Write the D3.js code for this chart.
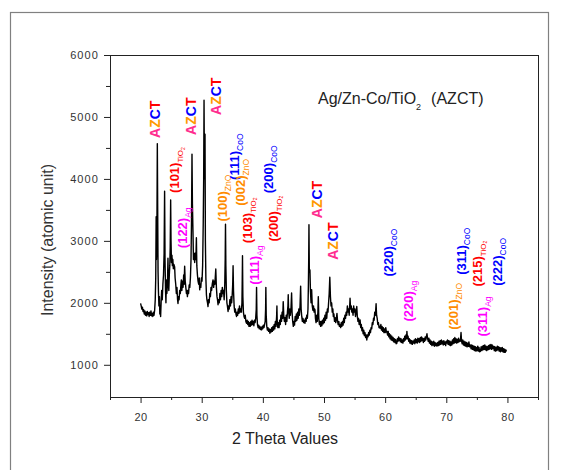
<!DOCTYPE html>
<html>
<head>
<meta charset="utf-8">
<script src="https://cdn.jsdelivr.net/npm/d3@7"></script>
<style>
  body { margin: 0; background: #fff; }
  text { font-family: Arial, "Liberation Sans", sans-serif; }
</style>
</head>
<body>
<svg id="chart" width="561" height="470"></svg>
<script>
// ---- data (2 theta in degrees, intensity in a.u.) ----
var pattern = [
  [20.0,1990],[20.1,1950],[20.2,1900],[20.3,1930],[20.4,1860],[20.5,1890],[20.6,1820],[20.7,1870],[20.8,1800],[20.9,1850],
  [21.0,1790],[21.1,1860],[21.2,1810],[21.3,1840],[21.4,1780],[21.5,1850],[21.6,1800],[21.7,1870],[21.8,1790],[21.9,1830],
  [22.0,1780],[22.1,1850],[22.2,1800],[22.3,1880],[22.4,2050],[22.48,2400],[22.55,3390],[22.6,2700],[22.66,2900],[22.74,4570],
  [22.8,3500],[22.86,2500],[22.92,2200],[23.0,1950],[23.08,2100],[23.15,1820],[23.22,1900],[23.28,1780],[23.36,2000],[23.45,2200],
  [23.55,2050],[23.65,2300],[23.75,2450],[23.85,2800],[23.93,3800],[24.0,2700],[24.08,2200],[24.15,2000],[24.22,2370],[24.3,2150],
  [24.4,2300],[24.48,2720],[24.55,2300],[24.62,2200],[24.7,2450],[24.78,2600],[24.85,2900],[24.92,3660],[24.98,3000],[25.05,2650],
  [25.13,2770],[25.2,2600],[25.28,2700],[25.36,2550],[25.45,2620],[25.57,2580],[25.65,2400],[25.75,2300],[25.85,2150],[25.95,2250],
  [26.05,2050],[26.12,1990],[26.2,2100],[26.3,2050],[26.4,2200],[26.5,2150],[26.6,2300],[26.67,2370],[26.75,2200],[26.85,2350],
  [26.95,2250],[27.05,2450],[27.12,2300],[27.21,2590],[27.3,2350],[27.4,2250],[27.5,2150],[27.6,2200],[27.66,2100],[27.75,2200],
  [27.85,2150],[27.95,2290],[28.05,2250],[28.15,2400],[28.25,2700],[28.33,3300],[28.41,4400],[28.48,3600],[28.57,3150],[28.65,2700],
  [28.75,2800],[28.85,2650],[28.95,2800],[29.05,2700],[29.13,3050],[29.2,2600],[29.3,2450],[29.4,2350],[29.5,2300],[29.6,2400],
  [29.67,2210],[29.75,2300],[29.85,2250],[29.95,2400],[30.05,2350],[30.15,2600],[30.25,3300],[30.32,4000],[30.38,5270],[30.45,4000],
  [30.54,4720],[30.6,3000],[30.68,2400],[30.77,2130],[30.85,2050],[30.95,2000],[31.03,1940],[31.12,2050],[31.22,2000],[31.32,2150],
  [31.42,2100],[31.52,2250],[31.62,2200],[31.72,2300],[31.85,2370],[31.95,2250],[32.05,2350],[32.15,2300],[32.3,2545],[32.4,2250],
  [32.5,2100],[32.58,2050],[32.67,1970],[32.77,2050],[32.87,2000],[32.97,2150],[33.07,2050],[33.17,2200],[33.27,2100],[33.37,2250],
  [33.47,2150],[33.57,2200],[33.67,2050],[33.77,2300],[33.84,2700],[33.89,3270],[33.95,2600],[34.03,2200],[34.12,2000],[34.2,1950],
  [34.31,1860],[34.4,1950],[34.5,1900],[34.6,2050],[34.7,1950],[34.8,2100],[34.9,2000],[35.0,2150],[35.07,2300],[35.13,2600],
  [35.2,2200],[35.3,1950],[35.4,1850],[35.5,1900],[35.6,1820],[35.69,1780],[35.78,1850],[35.88,1800],[35.98,1900],[36.08,1830],
  [36.18,1950],[36.28,1850],[36.38,1900],[36.48,1850],[36.58,2000],[36.62,2300],[36.67,2760],[36.73,2100],[36.82,1850],[36.92,1780],
  [37.02,1750],[37.12,1800],[37.22,1700],[37.33,1670],[37.43,1720],[37.53,1650],[37.63,1700],[37.73,1620],[37.83,1680],[37.93,1620],
  [38.03,1700],[38.13,1640],[38.23,1720],[38.33,1650],[38.43,1700],[38.53,1630],[38.63,1720],[38.73,1680],[38.83,1750],[38.92,1900],
  [38.97,2250],[39.03,1800],[39.12,1650],[39.22,1600],[39.32,1640],[39.42,1580],[39.52,1620],[39.62,1570],[39.72,1600],[39.79,1565],
  [39.88,1620],[39.98,1580],[40.08,1640],[40.18,1600],[40.28,1650],[40.38,1700],[40.45,1900],[40.49,2250],[40.55,1800],[40.64,1620],
  [40.74,1560],[40.84,1600],[40.94,1540],[41.04,1580],[41.15,1510],[41.25,1570],[41.35,1530],[41.45,1600],[41.55,1540],[41.65,1620],
  [41.75,1560],[41.85,1650],[41.95,1580],[42.05,1700],[42.15,1620],[42.25,1780],[42.3,1950],[42.35,1700],[42.45,1600],[42.55,1680],
  [42.65,1600],[42.75,1720],[42.85,1650],[42.95,1800],[43.05,1700],[43.15,1850],[43.25,1750],[43.33,2020],[43.42,1800],[43.52,1700],
  [43.62,1760],[43.72,1650],[43.82,1800],[43.92,1700],[44.02,1850],[44.1,1950],[44.15,2130],[44.22,1850],[44.32,1750],[44.42,1900],
  [44.5,1800],[44.6,1900],[44.7,2160],[44.78,1850],[44.88,1700],[44.98,1620],[45.08,1700],[45.18,1640],[45.28,1780],[45.38,1700],
  [45.48,1820],[45.58,1720],[45.68,1850],[45.78,1750],[45.88,1900],[45.98,1800],[46.08,1950],[46.18,2270],[46.26,1900],[46.36,1780],
  [46.46,1700],[46.56,1750],[46.66,1680],[46.76,1720],[46.89,1670],[46.98,1750],[47.08,1700],[47.18,1800],[47.28,1750],[47.38,1900],
  [47.45,2300],[47.5,2700],[47.54,3260],[47.6,2500],[47.7,2530],[47.78,2200],[47.88,2000],[47.98,2210],[48.08,1950],[48.18,1880],
  [48.28,1950],[48.38,1850],[48.45,1900],[48.52,1890],[48.6,1750],[48.7,1680],[48.8,1800],[48.9,1700],[49.0,1850],[49.07,2100],
  [49.15,1750],[49.25,1650],[49.35,1700],[49.45,1620],[49.55,1700],[49.65,1630],[49.75,1720],[49.85,1660],[49.95,1750],[50.05,1680],
  [50.15,1800],[50.25,1720],[50.35,1850],[50.45,1750],[50.55,1900],[50.65,1850],[50.75,2000],[50.85,2150],[50.95,2414],[51.05,2100],
  [51.15,1950],[51.25,2000],[51.35,1850],[51.45,1900],[51.52,1780],[51.62,1820],[51.72,1700],[51.82,1760],[51.92,1680],[52.02,1740],
  [52.12,1830],[52.22,1700],[52.32,1650],[52.42,1700],[52.52,1620],[52.62,1645],[52.72,1600],[52.82,1680],[52.92,1620],[53.02,1700],
  [53.12,1640],[53.22,1750],[53.32,1680],[53.42,1800],[53.52,1750],[53.62,1850],[53.72,1800],[53.82,1950],[53.92,1850],[54.02,1900],
  [54.12,1800],[54.2,1950],[54.26,2075],[54.35,1900],[54.45,1950],[54.55,1850],[54.65,1900],[54.75,1800],[54.85,1950],[54.95,1850],
  [55.05,1900],[55.15,1780],[55.25,1850],[55.36,1940],[55.45,1780],[55.55,1700],[55.65,1750],[55.75,1650],[55.9,1725],[56.0,1600],
  [56.1,1650],[56.2,1550],[56.3,1600],[56.4,1500],[56.5,1560],[56.6,1470],[56.7,1520],[56.8,1440],[56.9,1480],[57.0,1400],
  [57.1,1480],[57.2,1450],[57.3,1520],[57.4,1480],[57.5,1560],[57.6,1520],[57.7,1600],[57.8,1580],[57.9,1680],[58.0,1650],
  [58.1,1750],[58.2,1720],[58.3,1850],[58.4,1800],[58.52,1984],[58.6,1800],[58.7,1750],[58.8,1650],[58.9,1680],[59.0,1600],
  [59.1,1620],[59.18,1590],[59.3,1650],[59.4,1560],[59.5,1620],[59.6,1540],[59.7,1600],[59.8,1520],[59.9,1580],[60.0,1520],
  [60.1,1600],[60.2,1530],[60.28,1540],[60.4,1480],[60.5,1540],[60.6,1450],[60.7,1500],[60.8,1420],[60.9,1480],[61.0,1400],
  [61.1,1460],[61.2,1390],[61.3,1440],[61.4,1370],[61.5,1420],[61.6,1360],[61.7,1410],[61.8,1340],[61.92,1350],[62.0,1420],
  [62.1,1380],[62.2,1450],[62.3,1390],[62.4,1430],[62.5,1370],[62.6,1420],[62.7,1360],[62.8,1400],[62.9,1350],[63.0,1420],
  [63.1,1380],[63.2,1460],[63.3,1400],[63.4,1480],[63.5,1420],[63.56,1540],[63.65,1420],[63.75,1460],[63.85,1380],[63.95,1420],
  [64.05,1350],[64.15,1400],[64.25,1340],[64.35,1390],[64.45,1330],[64.55,1380],[64.64,1350],[64.75,1400],[64.85,1340],[64.95,1420],
  [65.05,1360],[65.15,1410],[65.25,1350],[65.35,1430],[65.45,1370],[65.55,1420],[65.65,1360],[65.75,1440],[65.85,1380],[65.95,1450],
  [66.05,1390],[66.15,1430],[66.25,1360],[66.35,1420],[66.45,1380],[66.55,1450],[66.65,1400],[66.75,1460],[66.84,1500],[66.95,1420],
  [67.05,1380],[67.15,1430],[67.25,1350],[67.35,1400],[67.45,1330],[67.55,1380],[67.65,1310],[67.75,1370],[67.85,1320],[67.95,1380],
  [68.05,1300],[68.15,1360],[68.25,1310],[68.35,1350],[68.48,1300],[68.6,1360],[68.7,1310],[68.8,1380],[68.9,1320],[69.0,1390],
  [69.1,1330],[69.2,1400],[69.3,1340],[69.4,1380],[69.5,1320],[69.6,1390],[69.7,1330],[69.8,1370],[69.9,1310],[70.0,1380],
  [70.11,1350],[70.2,1400],[70.3,1330],[70.4,1390],[70.5,1320],[70.6,1380],[70.7,1310],[70.8,1370],[70.9,1320],[71.0,1400],
  [71.1,1340],[71.2,1420],[71.3,1350],[71.4,1440],[71.5,1360],[71.6,1420],[71.7,1350],[71.8,1410],[71.9,1360],[72.0,1430],
  [72.1,1370],[72.2,1400],[72.3,1380],[72.41,1520],[72.5,1380],[72.6,1340],[72.7,1400],[72.8,1320],[72.9,1380],[73.0,1310],
  [73.1,1370],[73.2,1300],[73.3,1360],[73.4,1290],[73.5,1350],[73.6,1300],[73.7,1370],[73.8,1290],[73.93,1320],[74.05,1260],
  [74.15,1320],[74.25,1250],[74.35,1310],[74.45,1240],[74.55,1300],[74.65,1230],[74.75,1290],[74.85,1220],[74.95,1280],[75.05,1230],
  [75.15,1300],[75.25,1220],[75.35,1280],[75.45,1210],[75.57,1215],[75.7,1290],[75.8,1230],[75.9,1300],[76.0,1240],[76.1,1310],
  [76.2,1250],[76.3,1320],[76.4,1240],[76.5,1300],[76.6,1230],[76.7,1290],[76.8,1240],[76.9,1310],[77.0,1250],[77.1,1320],
  [77.2,1260],[77.3,1330],[77.4,1250],[77.5,1320],[77.6,1260],[77.75,1300],[77.85,1230],[77.95,1290],[78.05,1220],[78.15,1280],
  [78.25,1230],[78.35,1300],[78.45,1240],[78.55,1290],[78.65,1220],[78.75,1280],[78.85,1210],[78.95,1270],[79.05,1220],[79.15,1280],
  [79.25,1210],[79.35,1260],[79.45,1200],[79.55,1250],[79.65,1200],[79.75,1240],[79.84,1215]
];

// phase colours
var phaseColor = { TiO2: "#ff0000", Ag: "#ff00ff", ZnO: "#ff8c00", CoO: "#0000ff" };

// reflection labels: hkl, phase, position (2theta, intensity of the label's lower end)
var peakLabels = [
  { hkl: "(101)", phase: "TiO2", t: 25.57, i: 3774 },
  { hkl: "(122)", phase: "Ag",   t: 26.93, i: 2882 },
  { hkl: "(100)", phase: "ZnO",  t: 33.44, i: 3311 },
  { hkl: "(111)", phase: "CoO",  t: 35.41, i: 3984 },
  { hkl: "(002)", phase: "ZnO",  t: 36.31, i: 3565 },
  { hkl: "(103)", phase: "TiO2", t: 37.41, i: 2963 },
  { hkl: "(111)", phase: "Ag",   t: 38.69, i: 2290 },
  { hkl: "(200)", phase: "CoO",  t: 40.87, i: 3769 },
  { hkl: "(200)", phase: "TiO2", t: 41.69, i: 2989 },
  { hkl: "(220)", phase: "CoO",  t: 60.54, i: 2424 },
  { hkl: "(220)", phase: "Ag",   t: 63.82, i: 1698 },
  { hkl: "(201)", phase: "ZnO",  t: 71.20, i: 1565 },
  { hkl: "(311)", phase: "CoO",  t: 72.57, i: 2452 },
  { hkl: "(215)", phase: "TiO2", t: 75.03, i: 2263 },
  { hkl: "(311)", phase: "Ag",   t: 75.85, i: 1457 },
  { hkl: "(222)", phase: "CoO",  t: 78.31, i: 2274 }
];

// composite "AZCT" peaks
var azctLabels = [
  { t: 22.30, i: 4661 },
  { t: 28.31, i: 4710 },
  { t: 32.41, i: 5032 },
  { t: 48.90, i: 3366 },
  { t: 51.52, i: 2694 }
];
var azctLetters = ["A", "Z", "C", "T"];
var azctColors = ["#ff2d8f", "#ff9900", "#0000ff", "#ff0000"];

var xTicks = [20, 30, 40, 50, 60, 70, 80];
var xMinor = [15, 25, 35, 45, 55, 65, 75, 85];
var yTicks = [1000, 2000, 3000, 4000, 5000, 6000];
var yMinor = [1500, 2500, 3500, 4500, 5500];

// ---- layout ----
var svg = d3.select("#chart"),
    plotL = 110, plotR = 538, plotT = 55, plotB = 397;

var x = d3.scaleLinear().domain([15, 85]).range([plotL, plotR]);
var y = d3.scaleLinear().domain([480, 6000]).range([plotB, plotT]);

// outer figure frame
svg.append("rect")
    .attr("x", 10.5).attr("y", 12.5)
    .attr("width", 538).attr("height", 470)
    .attr("fill", "none").attr("stroke", "#808080").attr("stroke-width", 1.2);

// axes
function styleAxis(g) {
    g.select(".domain").remove();
    g.selectAll("line").attr("stroke", "#222");
    g.selectAll("text").attr("fill", "#333").style("font-size", "11px");
}

svg.append("g")
    .attr("transform", "translate(0," + plotB + ")")
    .call(d3.axisBottom(x).tickValues(xMinor).tickSize(3).tickFormat(""))
    .call(styleAxis);
svg.append("g")
    .attr("transform", "translate(0," + plotB + ")")
    .call(d3.axisBottom(x).tickValues(xTicks).tickSize(6).tickPadding(10))
    .call(styleAxis)
    .selectAll("text").style("letter-spacing", "0.5px");

svg.append("g")
    .attr("transform", "translate(" + plotL + ",0)")
    .call(d3.axisLeft(y).tickValues(yMinor).tickSize(4).tickFormat(""))
    .call(styleAxis);
svg.append("g")
    .attr("transform", "translate(" + plotL + ",0)")
    .call(d3.axisLeft(y).tickValues(yTicks).tickSize(6).tickPadding(5).tickFormat(d3.format("d")))
    .call(styleAxis)
    .selectAll("text").style("letter-spacing", "1.1px");

// plot box
svg.append("rect")
    .attr("x", plotL + 0.5).attr("y", plotT + 0.5)
    .attr("width", plotR - plotL).attr("height", plotB - plotT)
    .attr("fill", "none").attr("stroke", "#222").attr("stroke-width", 1);

// the diffraction pattern
var line = d3.line()
    .x(function(d) { return x(d[0]); })
    .y(function(d) { return y(d[1]); });

svg.append("path")
    .datum(pattern)
    .attr("d", line)
    .attr("fill", "none")
    .attr("stroke", "#000")
    .attr("stroke-width", 1.4)
    .attr("stroke-linejoin", "round");

// hkl labels, rotated, subscript phase name
var lab = svg.selectAll(".hkl")
    .data(peakLabels)
    .enter().append("text")
    .attr("class", "hkl")
    .attr("transform", function(d) {
        return "translate(" + (x(d.t) + 4.5) + "," + y(d.i) + ") rotate(-90)";
    })
    .attr("fill", function(d) { return phaseColor[d.phase]; })
    .style("font-size", "13px")
    .style("font-weight", "bold");

lab.append("tspan").text(function(d) { return d.hkl; });
lab.each(function(d) {
    var t = d3.select(this);
    if (d.phase === "TiO2") {
        t.append("tspan").attr("dy", 4).style("font-size", "8px").style("font-weight", "normal").text("TiO");
        t.append("tspan").attr("dy", 1.5).style("font-size", "5px").style("font-weight", "normal").text("2");
    } else {
        t.append("tspan").attr("dy", 4).style("font-size", "8.5px").style("font-weight", "normal").text(d.phase);
    }
});

// AZCT labels, one colour per letter
var az = svg.selectAll(".azct")
    .data(azctLabels)
    .enter().append("text")
    .attr("class", "azct")
    .attr("transform", function(d) {
        return "translate(" + (x(d.t) + 5) + "," + y(d.i) + ") rotate(-90)";
    })
    .style("font-size", "14px")
    .style("font-weight", "bold");

az.each(function() {
    var t = d3.select(this);
    azctLetters.forEach(function(l, k) {
        t.append("tspan").attr("fill", azctColors[k]).text(l);
    });
});

// title inside the plot
var title = svg.append("text")
    .attr("x", 318).attr("y", 104)
    .attr("fill", "#222")
    .style("font-size", "16px");
title.append("tspan").text("Ag/Zn-Co/TiO");
title.append("tspan").attr("dy", 6).style("font-size", "9px").text("2");
title.append("tspan").attr("dy", -6).attr("dx", 10).text("(AZCT)");

// axis titles
svg.append("text")
    .attr("transform", "translate(53,240) rotate(-90)")
    .attr("text-anchor", "middle")
    .attr("fill", "#333")
    .style("font-size", "16px")
    .text("Intensity (atomic unit)");

svg.append("text")
    .attr("x", 285).attr("y", 444)
    .attr("text-anchor", "middle")
    .attr("fill", "#222")
    .style("font-size", "16px")
    .text("2 Theta Values");
</script>
</body>
</html>
